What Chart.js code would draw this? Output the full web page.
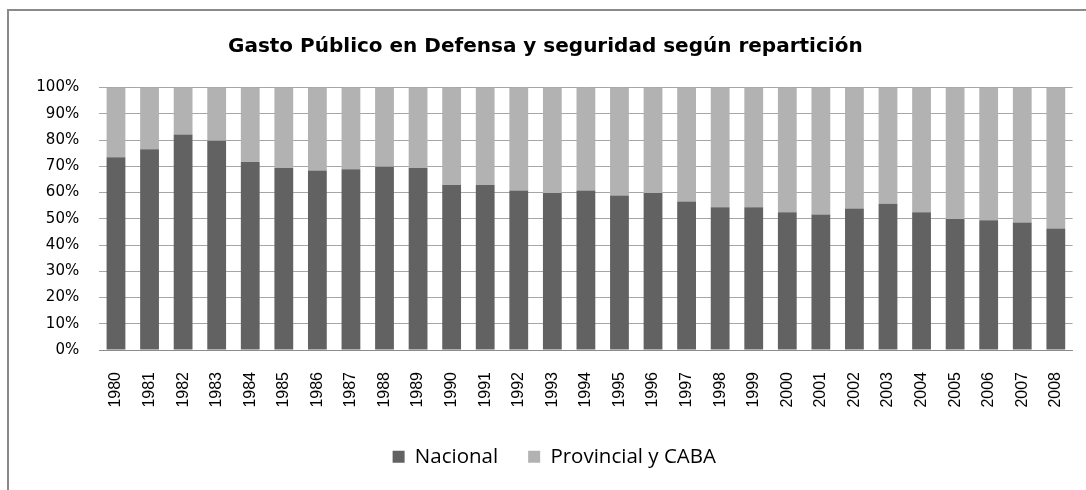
<!DOCTYPE html>
<html>
<head>
<meta charset="utf-8">
<script src="https://cdn.jsdelivr.net/npm/chart.js@4.4.1/dist/chart.umd.min.js"></script>
<style>
  html, body { margin: 0; padding: 0; background: #ffffff; }
  #wrap { position: relative; width: 1086px; height: 490px; }
</style>
</head>
<body>
<div id="wrap"><canvas id="c" width="1086" height="490"></canvas></div>
<script>
const chartTitle = 'Gasto Público en Defensa y seguridad según repartición';
const years = ['1980','1981','1982','1983','1984','1985','1986','1987','1988','1989',
  '1990','1991','1992','1993','1994','1995','1996','1997','1998','1999',
  '2000','2001','2002','2003','2004','2005','2006','2007','2008'];
const seriesNames = ['Nacional', 'Provincial y CABA'];
const nacional = [73.4, 76.5, 82.1, 79.7, 71.6, 69.3, 68.4, 68.9, 69.8, 69.3,
  62.9, 62.9, 60.8, 59.8, 60.8, 58.9, 59.8, 56.6, 54.4, 54.4,
  52.5, 51.6, 53.9, 55.7, 52.5, 49.9, 49.4, 48.6, 46.3];
const provincial = [26.6, 23.5, 17.9, 20.3, 28.4, 30.7, 31.6, 31.1, 30.2, 30.7,
  37.1, 37.1, 39.2, 40.2, 39.2, 41.1, 40.2, 43.4, 45.6, 45.6,
  47.5, 48.4, 46.1, 44.3, 47.5, 50.1, 50.6, 51.4, 53.7];
const yTicks = [0, 10, 20, 30, 40, 50, 60, 70, 80, 90, 100];

const framePlugin = {
  id: 'frame',
  beforeDraw(chart) {
    const ctx = chart.ctx;
    ctx.save();
    ctx.fillStyle = '#ffffff';
    ctx.fillRect(0, 0, chart.width, chart.height);
    ctx.strokeStyle = '#8a8a8a';
    ctx.lineWidth = 2;
    ctx.beginPath();
    ctx.moveTo(8, chart.height + 5);
    ctx.lineTo(8, 10);
    ctx.lineTo(chart.width + 5, 10);
    ctx.stroke();
    ctx.restore();
  }
};

const boxShift = {
  id: 'boxShift',
  afterLayout(chart) {
    const l = chart.legend;
    if (l) { l.left += 18; l.right += 18; }
    const t = chart.titleBlock;
    if (t) { t.left += 9; t.right += 9; }
  }
};

new Chart(document.getElementById('c'), {
  type: 'bar',
  data: {
    labels: years,
    datasets: [
      { label: seriesNames[0], data: nacional, backgroundColor: '#626262', borderWidth: 0,
        categoryPercentage: 1.0, barPercentage: 0.56 },
      { label: seriesNames[1], data: provincial, backgroundColor: '#b2b2b2', borderWidth: 0,
        categoryPercentage: 1.0, barPercentage: 0.56 }
    ]
  },
  options: {
    responsive: false,
    animation: false,
    devicePixelRatio: 1,
    layout: { padding: { left: 0, right: 13.4, top: 0, bottom: 13 } },
    plugins: {
      title: {
        display: true,
        text: chartTitle,
        color: '#000000',
        font: { family: 'DejaVu Sans', size: 20, weight: 'bold' },
        padding: { top: 35, bottom: 28.5 }
      },
      legend: {
        display: true,
        position: 'bottom',
        labels: {
          boxWidth: 12,
          boxHeight: 12,
          padding: 30,
          color: '#000000',
          font: { family: 'Open Sans', size: 20.5 }
        }
      },
      tooltip: { enabled: false }
    },
    scales: {
      x: {
        stacked: true,
        grid: { display: false, drawTicks: false },
        border: { display: true, color: '#8c8c8c', width: 1 },
        ticks: {
          autoSkip: false,
          maxRotation: 90,
          minRotation: 90,
          padding: 22,
          color: '#000000',
          font: { family: 'Liberation Sans', size: 16 }
        },
        afterFit(s) { s.height = 66.5; s.paddingLeft = 0; s.paddingRight = 0; }
      },
      y: {
        stacked: true,
        min: 0,
        max: 100,
        afterBuildTicks(s) { s.ticks = yTicks.map(v => ({ value: v })); },
        grid: { color: '#a6a6a6', lineWidth: 1, drawTicks: false },
        border: { display: false },
        ticks: {
          padding: 20,
          color: '#000000',
          font: { family: 'DejaVu Sans', size: 15 },
          callback: v => v + '%'
        },
        afterFit(s) { s.width = 99.2; s.paddingTop = 0; s.paddingBottom = 0; }
      }
    }
  },
  plugins: [framePlugin, boxShift]
});
</script>
</body>
</html>
